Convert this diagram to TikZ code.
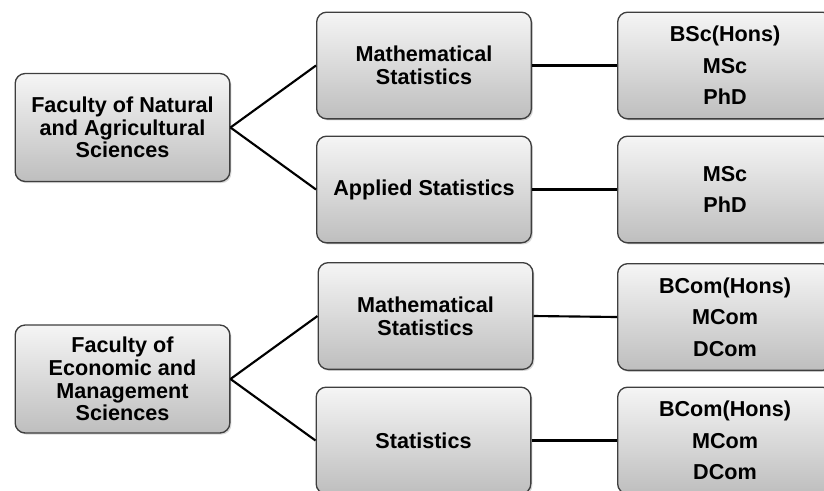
\documentclass[tikz,border=0pt]{standalone}
\usepackage{fontspec}
\setmainfont{Liberation Sans}
\usetikzlibrary{shadows}
\definecolor{BoxTop}{HTML}{F5F5F5}
\definecolor{BoxBottom}{HTML}{BEBEBE}
\definecolor{BoxLine}{HTML}{3E3E3E}

\begin{document}
\begin{tikzpicture}[x=0.75pt,y=-0.75pt,
    unit/.style={draw=BoxLine, line width=1pt, rounded corners=7.5pt,
      top color=BoxTop, bottom color=BoxBottom, align=center,
      font=\bfseries\fontsize{16.2pt}{17pt}\selectfont,
      minimum width=161pt, minimum height=80pt, inner sep=2pt,
      drop shadow={opacity=0.3, shadow xshift=1.2pt, shadow yshift=-1.2pt}},
    degree/.style={unit, font=\bfseries\fontsize{16.2pt}{23.5pt}\selectfont},
    link/.style={line width=1.6pt, black}]
    \clip (0,0) rectangle (824,490);
    % faculties
    \node[unit, minimum height=81pt] (fnas) at (122.5,127.5) {Faculty of Natural\\and Agricultural\\Sciences};
    \node[unit, minimum height=81pt] (fems) at (122.5,379) {Faculty of\\Economic and\\Management\\Sciences};
    % departments
    \node[unit] (mstatA) at (424,65.5) {Mathematical\\Statistics};
    \node[unit] (astat) at (424,189.5) {Applied Statistics};
    \node[unit] (mstatB) at (425.5,316) {Mathematical\\Statistics};
    \node[unit] (stat) at (423.5,440.5) {Statistics};
    % degrees
    \node[degree] (degA) at (725,65.5) {BSc(Hons)\\MSc\\PhD};
    \node[degree] (degB) at (725,189.5) {MSc\\PhD};
    \node[degree] (degC) at (725,317) {BCom(Hons)\\MCom\\DCom};
    \node[degree] (degD) at (725,440.5) {BCom(Hons)\\MCom\\DCom};
    \foreach \a/\b in {fnas/mstatA,fnas/astat,fems/mstatB,fems/stat,
        mstatA/degA,astat/degB,mstatB/degC,stat/degD}
      \draw[link] (\a.east) -- (\b.west);
  \end{tikzpicture}
\end{document}
